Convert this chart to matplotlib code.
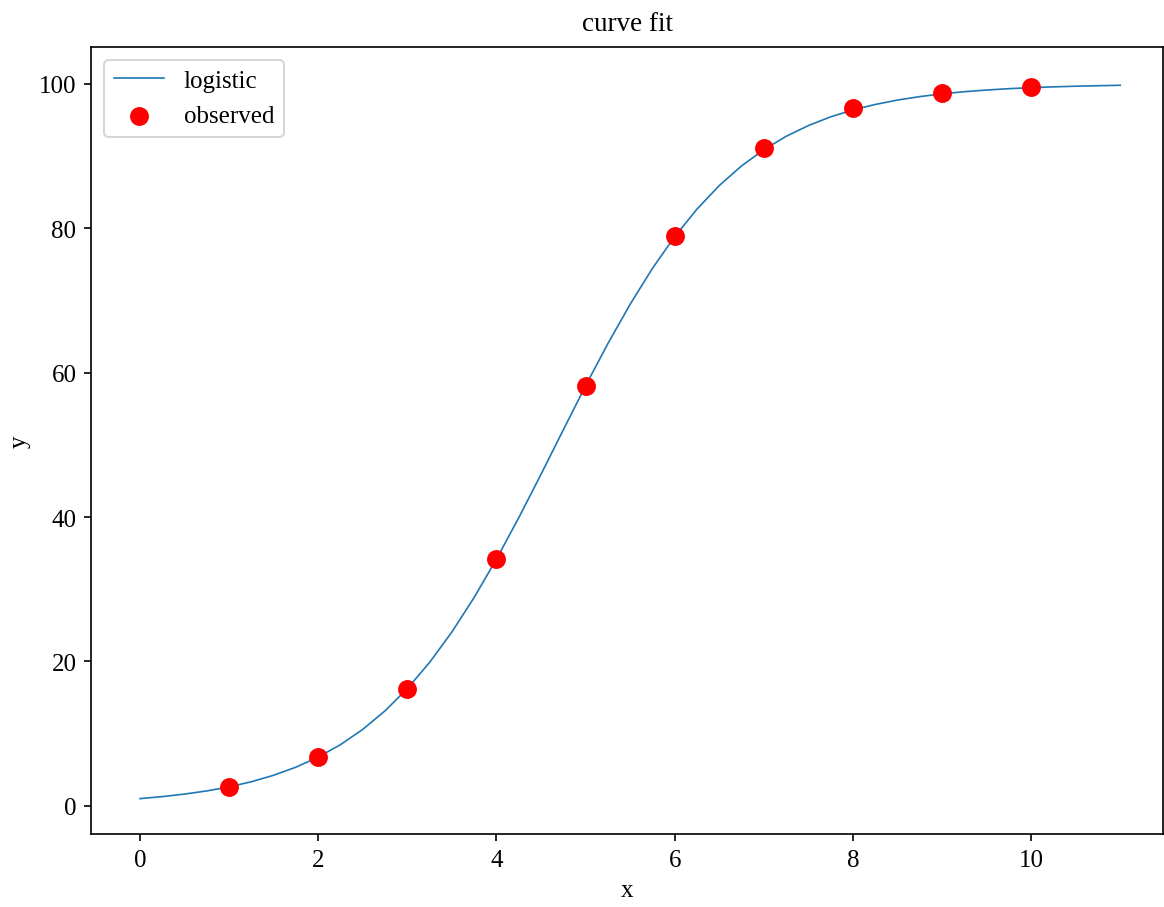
import matplotlib.pyplot as plt

plt.rcParams['font.family'] = ['Liberation Serif', 'DejaVu Serif']
plt.rcParams['font.size'] = 12

# observed points
x_obs = [1, 2, 3, 4, 5, 6, 7, 8, 9, 10]
y_obs = [2.6, 6.7, 16.2, 34.2, 58.2, 79.0, 91.1, 96.6, 98.8, 99.6]

x_fit = [0, 0.25, 0.5, 0.75, 1, 1.25, 1.5, 1.75, 2, 2.25, 2.5, 2.75, 3, 3.25, 3.5, 3.75,
         4, 4.25, 4.5, 4.75, 5, 5.25, 5.5, 5.75, 6, 6.25, 6.5, 6.75, 7, 7.25, 7.5, 7.75,
         8, 8.25, 8.5, 8.75, 9, 9.25, 9.5, 9.75, 10, 10.25, 10.5, 10.75, 11]
y_fit = [1.00, 1.28, 1.63, 2.07, 2.63, 3.34, 4.24, 5.36, 6.76, 8.48, 10.60, 13.17, 16.25,
         19.88, 24.09, 28.88, 34.18, 39.91, 45.93, 52.09, 58.19, 64.03, 69.48, 74.45, 78.85,
         82.66, 85.92, 88.64, 90.89, 92.74, 94.23, 95.44, 96.39, 97.15, 97.76, 98.24, 98.62,
         98.92, 99.15, 99.34, 99.48, 99.59, 99.68, 99.75, 99.81]

fig = plt.figure(figsize=(7.76, 6.053), dpi=150)
ax = fig.add_axes([0.0782, 0.0804, 0.921, 0.8667])

ax.plot(x_fit, y_fit, color='C0', lw=0.8, label='logistic')
ax.scatter(x_obs, y_obs, color='red', s=65, label='observed', zorder=3)

ax.set_xlim(-0.55, 11.48)
ax.set_ylim(-3.9, 105.1)
ax.set_title('curve fit', pad=8, fontsize=13)
ax.set_xlabel('x')
ax.set_ylabel('y')
ax.legend(loc='upper left')

fig.savefig('out.png', dpi=150)
